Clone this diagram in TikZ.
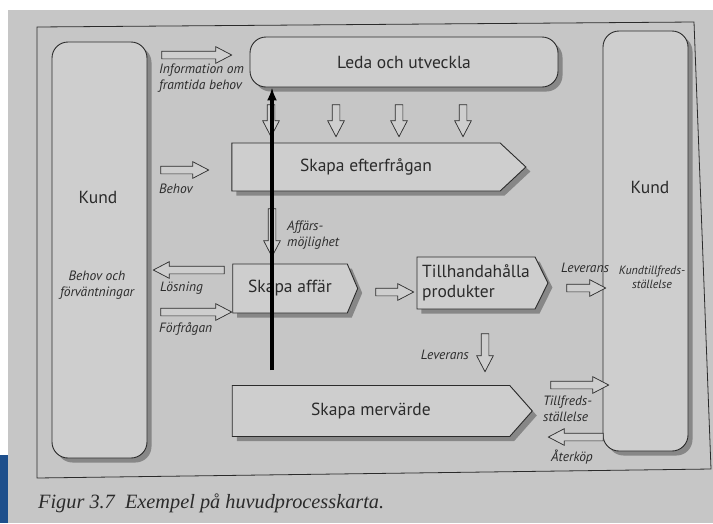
\documentclass[tikz,border=0pt]{standalone}
\usepackage{fontspec}
\usetikzlibrary{shapes.symbols,shapes.arrows,shadows,arrows.meta}
\newfontfamily\diafont{PT Sans}
\newfontfamily\capfont{Liberation Serif}
\definecolor{PageGray}{HTML}{C6C6C6}
\definecolor{BoxGray}{HTML}{CECECE}
\definecolor{InkGray}{HTML}{2B2B2B}
\definecolor{ShadowGray}{HTML}{878787}
\definecolor{EdgeBlue}{HTML}{1D4F8C}

\begin{document}
\begin{tikzpicture}[
        x=1pt,y=-1pt,
        box/.style={draw=InkGray,fill=BoxGray,line width=0.9pt,text=InkGray,inner sep=0pt,
          font=\diafont\fontsize{17.5}{20}\selectfont,
          drop shadow={shadow xshift=4.5pt,shadow yshift=-4.5pt,fill=ShadowGray,opacity=1}},
        roundbox/.style={box,rounded corners=16pt},
        proc/.style={box,signal,signal to=east,signal pointer angle=#1},
        hol/.style={single arrow,draw=InkGray,fill=BoxGray,line width=0.7pt,inner sep=3.5pt,
          single arrow head extend=4.5pt,single arrow tip angle=55,minimum height=#1},
        boxtext/.style={text=InkGray,inner sep=0pt,font=\diafont\fontsize{17.5}{20}\selectfont},
        lbl/.style={text=InkGray,inner sep=0pt,align=left,font=\diafont\itshape\fontsize{13.5}{15.5}\selectfont},
        blackarr/.style={-{Latex[length=13pt,width=10pt]},line width=3.5pt,draw=black}
      ]
        \useasboundingbox (0,0) rectangle (713,523);
        % page of the book
        \fill[white] (0,0) rectangle (713,523);
        \fill[PageGray] (8,10) rectangle (713,523);
        \fill[EdgeBlue] (0,455) rectangle (8,523);
        \draw[InkGray,line width=0.8pt] (37,27) -- (694,22) -- (711,469) -- (37,478) -- cycle;

        % customer columns
        \node[roundbox,minimum width=95pt,minimum height=416pt] (kundL) at (99.5,250) {};
        \node[roundbox,minimum width=85pt,minimum height=420pt] (kundR) at (645.5,241) {};
        \node[boxtext] (kundLname) at (98,197) {Kund};
        \node[lbl,align=center] (kundLneeds) at (97,285) {Behov och\\förväntningar};
        \node[boxtext] (kundRname) at (650,187) {Kund};
        \node[lbl,align=center,font=\diafont\itshape\fontsize{12}{14}\selectfont] (kundRsat) at (652,277) {Kundtillfreds-\\ställelse};

        % processes (node centre = centre of the body, tip added to the east)
        \node[roundbox,minimum width=308pt,minimum height=50pt] (leda) at (404,62) {Leda och utveckla};
        \node[proc=86,minimum width=294pt,minimum height=48pt] (efterfr) at (366,167) {Skapa efterfrågan};
        \node[proc=134,minimum width=125pt,minimum height=49pt] (affar) at (290,288.5) {Skapa affär};
        \node[proc=127,minimum width=131pt,minimum height=52pt,align=left] (tillh) at (476,283) {Tillhandahålla\\produkter};
        \node[proc=97,minimum width=300pt,minimum height=51pt] (merv) at (371,411) {Skapa mervärde};

        % hollow arrows
        \node[hol=70] (infoArr) at (193,55) {};
        \node[hol=48] (behovArr) at (181,170) {};
        \node[hol=71,rotate=180] (losnArr) at (192.5,270) {};
        \node[hol=71] (forfrArr) at (192.5,312) {};
        \foreach \xx [count=\i] in {271,336,399,463}
          \node[hol=32,rotate=-90] (ledaArr\i) at (\xx,117) {};
        \node[hol=48,rotate=-90] (mojlArr) at (272,229) {};
        \node[hol=38] (affTillArr) at (391,292) {};
        \node[hol=39] (levArr) at (582.5,288) {};
        \node[hol=38,rotate=-90] (levDownArr) at (485,349) {};
        \node[hol=58] (tillfrArr) at (576,385) {};
        \node[hol=55,rotate=180] (aterArr) at (579.5,437) {};

        % arrow labels
        \node[lbl,anchor=north west] (infoLbl) at (159,64) {Information om\\framtida behov};
        \node[lbl,anchor=west] (behovLbl) at (159,189) {Behov};
        \node[lbl,anchor=west] (losnLbl) at (160,288) {Lösning};
        \node[lbl,anchor=west] (forfrLbl) at (159,329) {Förfrågan};
        \node[lbl,anchor=north west] (mojlLbl) at (287,221) {Affärs-\\möjlighet};
        \node[lbl] (levLbl) at (585,268) {Leverans};
        \node[lbl,anchor=east] (levDownLbl) at (469,355) {Leverans};
        \node[lbl,anchor=west] (tillfrLbl) at (543,409) {Tillfreds-\\ställelse};
        \node[lbl] (aterLbl) at (572,457) {Återköp};

        % black arrow
        \coordinate (affarFoot) at (272,370);
        \draw[blackarr] (affarFoot) -- (affarFoot |- leda.south);

        \node[anchor=base west,inner sep=0pt,text=InkGray,font=\capfont\itshape\fontsize{20.3}{24}\selectfont] (caption) at (38,508) {Figur 3.7\ \ Exempel på huvudprocesskarta.};
      \end{tikzpicture}
\end{document}
